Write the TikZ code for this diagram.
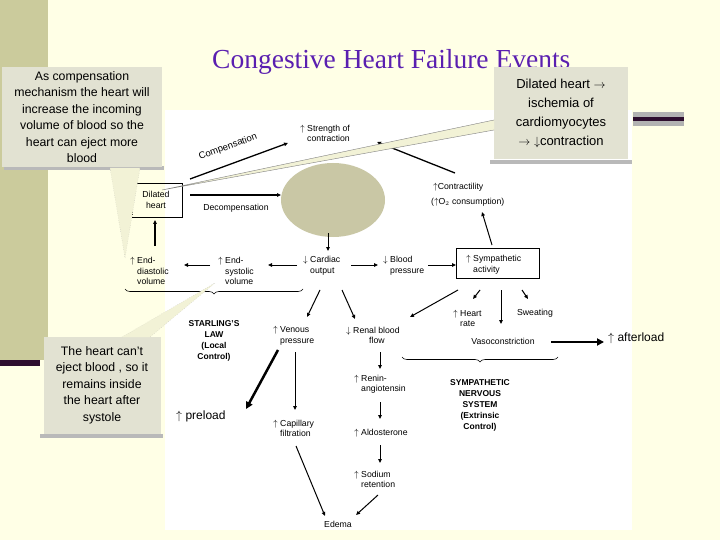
\documentclass[tikz,border=0pt]{standalone}
\usepackage{fontspec}
\setmainfont{Liberation Sans}
\newfontfamily\titlefont{Liberation Serif}
\usetikzlibrary{arrows.meta,decorations.pathreplacing,shapes.geometric}
\definecolor{bg}{HTML}{FFFFE6}
\definecolor{band}{HTML}{CBCB9C}
\definecolor{callf}{HTML}{E2E2D2}
\definecolor{wedgef}{HTML}{F2F2D6}
\definecolor{ttl}{HTML}{5A1FB0}
\definecolor{dpurp}{HTML}{2E0E2E}
\definecolor{ell}{HTML}{C9C7A5}
\begin{document}
\begin{tikzpicture}[x=1pt,y=-1pt,
  txt/.style={font=\fontsize{8.7}{10.5}\selectfont,align=left,inner sep=0pt},
  bold/.style={font=\bfseries\fontsize{8.5}{11}\selectfont,align=center,inner sep=0pt},
  call/.style={fill=callf,font=\fontsize{12.3}{16.5}\selectfont,align=center,inner sep=1pt},
  arr/.style={-{Triangle[length=4pt,width=3.5pt]},line width=1pt},
  thk/.style={-{Triangle[length=7pt,width=7pt]},line width=2.5pt},
  wedge/.style={fill=wedgef,draw=gray!70,line width=0.3pt,dotted}]
\useasboundingbox (0,0) rectangle (720,540);
\fill[bg] (0,0) rectangle (720,540);
\fill[band] (0,0) rectangle (48,360);
\fill[dpurp] (0,360) rectangle (40,366);
\fill[white] (165,110) rectangle (632,530);
\fill[gray!60] (633,112) rectangle (684,126);
\fill[dpurp] (633,117) rectangle (684,121);
% title
\node[text=ttl,font=\titlefont\fontsize{27.5}{30}\selectfont,anchor=west,inner sep=0pt] (title) at (212,62) {Congestive Heart Failure Events};
% ellipse
\node[ellipse,fill=ell,minimum width=104pt,minimum height=74pt,inner sep=0pt] (ell) at (333,200) {};
% texts
\node[txt,anchor=west] (str) at (300,134) {$\uparrow$\ Strength of\\\phantom{$\uparrow$\ }contraction};
\node[txt,rotate=20,font=\fontsize{9.5}{11}\selectfont] (comp) at (228,147) {Compensation};
\draw[line width=0.5pt] (132,183) -- (182,183) -- (182,217) -- (132,217);
\draw[line width=0.4pt,dotted] (132,183) -- (132,217);
\node[txt,align=center] (dil) at (156,200) {Dilated\\heart};
\node[txt] (dec) at (236,208) {Decompensation};
\node[txt,anchor=west] (con) at (433,187) {$\uparrow$Contractility};
\node[txt,anchor=west] (o2) at (431,202) {($\uparrow$O$_2$ consumption)};
\node[txt,anchor=west] (edv) at (130,272) {$\uparrow$ End-\\\phantom{$\uparrow$ }diastolic\\\phantom{$\uparrow$ }volume};
\node[txt,anchor=west] (esv) at (218,272) {$\uparrow$ End-\\\phantom{$\uparrow$ }systolic\\\phantom{$\uparrow$ }volume};
\node[txt,anchor=west] (co) at (303,266) {$\downarrow$ Cardiac\\\phantom{$\downarrow$ }output};
\node[txt,anchor=west] (bp) at (383,266) {$\downarrow$ Blood\\\phantom{$\downarrow$ }pressure};
\node[draw,line width=0.5pt,minimum width=83pt,minimum height=30pt] (sab) at (498,263) {};
\node[txt,anchor=west] (sa) at (466,265) {$\uparrow$ Sympathetic\\\phantom{$\uparrow$ }activity};
\draw[decorate,decoration={brace,mirror,amplitude=5pt},line width=0.6pt] (125,289) -- (303,289);
\node[bold] (star) at (214,341) {STARLING'S\\LAW\\(Local\\Control)};
\node[txt,anchor=west] (vp) at (273,336) {$\uparrow$ Venous\\\phantom{$\uparrow$ }pressure};
\node[txt,anchor=west] (rbf) at (346,336) {$\downarrow$ Renal blood\\\phantom{$\downarrow$ Ren}flow};
\node[txt,anchor=west] (hr) at (453,319) {$\uparrow$ Heart\\\phantom{$\uparrow$ }rate};
\node[txt] (swe) at (535,313) {Sweating};
\node[txt] (vaso) at (503,341) {Vasoconstriction};
\draw[decorate,decoration={brace,mirror,amplitude=5pt},line width=0.6pt] (402,357) -- (558,357);
\node[bold] (sns) at (480,405) {SYMPATHETIC\\NERVOUS\\SYSTEM\\(Extrinsic\\Control)};
\node[txt,anchor=west] (ren) at (354,384) {$\uparrow$ Renin-\\\phantom{$\uparrow$ }angiotensin};
\node[txt,anchor=west] (ald) at (354,433) {$\uparrow$ Aldosterone};
\node[txt,anchor=west] (sod) at (354,480) {$\uparrow$ Sodium\\\phantom{$\uparrow$ }retention};
\node[txt,anchor=west] (cap) at (273,429) {$\uparrow$ Capillary\\\phantom{$\uparrow$ }filtration};
\node[txt] (ede) at (338,524) {Edema};
\node[font=\fontsize{12}{13}\selectfont,anchor=west,inner sep=0pt] (pre) at (176,416) {$\uparrow$ preload};
\node[font=\fontsize{12}{13}\selectfont,anchor=west,inner sep=0pt] (aft) at (608,338) {$\uparrow$ afterload};
% coordinates & arrows
\coordinate (a1) at (190,179); \coordinate (a2) at (288,143);
\draw[arr,line width=1.3pt] (a1) -- (a2);
\coordinate (b1) at (455,173); \coordinate (b2) at (377,142);
\draw[arr,line width=1.3pt] (b1) -- (b2);
\coordinate (c1) at (190,195); \coordinate (c2) at (281,195);
\draw[arr,line width=1.3pt] (c1) -- (c2);
\coordinate (d1) at (155,246); \coordinate (d2) at (155,220);
\draw[arr,line width=1.3pt] (d1) -- (d2);
\coordinate (e1) at (210,265); \coordinate (e2) at (184,265);
\draw[arr] (e1) -- (e2);
\coordinate (f1) at (297,265); \coordinate (f2) at (268,265);
\draw[arr] (f1) -- (f2);
\coordinate (g1) at (328,233); \coordinate (g2) at (328,251);
\draw[arr] (g1) -- (g2);
\coordinate (h1) at (351,265); \coordinate (h2) at (378,265);
\draw[arr] (h1) -- (h2);
\coordinate (i1) at (428,265); \coordinate (i2) at (456,265);
\draw[arr] (i1) -- (i2);
\coordinate (j1) at (492,245); \coordinate (j2) at (482,212);
\draw[arr] (j1) -- (j2);
\coordinate (k1) at (320,290); \coordinate (k2) at (307,317);
\draw[arr] (k1) -- (k2);
\coordinate (l1) at (342,290); \coordinate (l2) at (355,319);
\draw[arr] (l1) -- (l2);
\coordinate (m1) at (458,290); \coordinate (m2) at (410,317);
\draw[arr] (m1) -- (m2);
\coordinate (n1) at (480,290); \coordinate (n2) at (473,299);
\draw[arr] (n1) -- (n2);
\coordinate (o1) at (501,290); \coordinate (o2) at (501,324);
\draw[arr] (o1) -- (o2);
\coordinate (p1) at (522,290); \coordinate (p2) at (528,299);
\draw[arr] (p1) -- (p2);
\coordinate (q1) at (551,342); \coordinate (q2) at (604,342);
\draw[thk,line width=2.3pt] (q1) -- (q2);
\coordinate (r1) at (278,350); \coordinate (r2) at (246,409);
\draw[thk] (r1) -- (r2);
\coordinate (s1) at (295,352); \coordinate (s2) at (295,410);
\draw[arr] (s1) -- (s2);
\coordinate (t1) at (296,446); \coordinate (t2) at (325,516);
\draw[arr] (t1) -- (t2);
\coordinate (u1) at (380,352); \coordinate (u2) at (380,369);
\draw[arr] (u1) -- (u2);
\coordinate (v1) at (380,402); \coordinate (v2) at (380,419);
\draw[arr] (v1) -- (v2);
\coordinate (w1) at (380,445); \coordinate (w2) at (380,463);
\draw[arr] (w1) -- (w2);
\coordinate (x1) at (378,495); \coordinate (x2) at (356,515);
\draw[arr] (x1) -- (x2);
% callouts
\fill[gray!55] (4,166) rectangle (164,170);
\node[call,minimum width=160pt,minimum height=100pt] (cl1) at (82,117) {As compensation\\mechanism the heart will\\increase the incoming\\volume of blood so the\\heart can eject more\\blood};
\coordinate (cl1t) at (125,258);
\draw[wedge] (110,168) -- (cl1t) -- (140,168);
\fill[gray!55] (40,434) rectangle (163,438);
\node[call,minimum width=117pt,minimum height=97pt] (cl2) at (102,385) {The heart can't\\eject blood , so it\\remains inside\\the heart after\\systole};
\coordinate (cl2t) at (215,283);
\draw[wedge] (122,337) -- (cl2t) -- (150,337);
\fill[gray!55] (490,160) rectangle (632,164);
\node[call,minimum width=134pt,minimum height=92pt,font=\fontsize{13}{19}\selectfont] (cl3) at (561,113) {Dilated heart $\rightarrow$\\ischemia of\\cardiomyocytes\\$\rightarrow$ $\downarrow$contraction};
\coordinate (cl3t) at (162,190);
\draw[fill=wedgef,draw=gray,line width=0.4pt] (494,120) -- (cl3t) -- (494,130);
\end{tikzpicture}
\end{document}
